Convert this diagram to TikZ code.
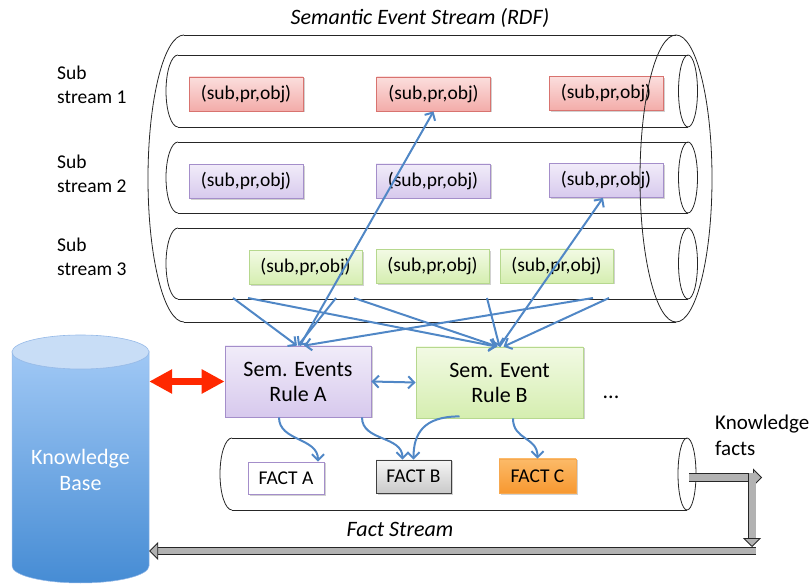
\documentclass[tikz,border=0pt]{standalone}
\usepackage{fontspec}
\setmainfont{Carlito}
\usetikzlibrary{arrows.meta,calc,shadows}
\newcommand\fsz[2]{\fontsize{#1pt}{#2pt}\selectfont}
\definecolor{ablue}{RGB}{80,135,198}
\definecolor{kbred}{RGB}{255,40,0}
\definecolor{redT}{RGB}{251,222,221}
\definecolor{redB}{RGB}{243,172,169}
\definecolor{redL}{RGB}{216,115,111}
\definecolor{purT}{RGB}{241,236,249}
\definecolor{purB}{RGB}{215,201,237}
\definecolor{purL}{RGB}{164,142,202}
\definecolor{grnT}{RGB}{242,250,228}
\definecolor{grnB}{RGB}{213,238,176}
\definecolor{grnL}{RGB}{182,216,142}
\definecolor{kbT}{RGB}{160,200,245}
\definecolor{kbB}{RGB}{70,140,212}
\definecolor{kbCap}{RGB}{200,221,246}
\definecolor{kbCapL}{RGB}{150,186,232}
\definecolor{orT}{RGB}{252,186,104}
\definecolor{orB}{RGB}{247,152,48}
\definecolor{orL}{RGB}{246,168,80}
\begin{document}
\begin{tikzpicture}[x=1pt,y=-1pt,
  outl/.style={draw=black!85, line width=0.8pt},
  shd/.style={drop shadow={shadow xshift=1.5pt, shadow yshift=-1.5pt, opacity=0.18, fill=black}},
  triple/.style={minimum width=114pt, minimum height=34pt, inner sep=0pt, font=\fsz{19.5}{23}, line width=0.8pt, shd},
  tred/.style={triple, draw=redL, top color=redT, bottom color=redB},
  tpur/.style={triple, draw=purL, top color=purT, bottom color=purB},
  tgrn/.style={triple, draw=grnL, top color=grnT, bottom color=grnB, minimum width=113pt},
  rulebox/.style={minimum height=71pt, inner sep=0pt, align=center, font=\fsz{22}{25}, line width=0.8pt, shd},
  factbox/.style={minimum height=33pt, inner sep=0pt, font=\fsz{19.5}{23}, line width=0.8pt, shd},
  lbl/.style={align=left, anchor=west, inner sep=0pt, font=\fsz{19.5}{24}},
  bl/.style={draw=ablue, line width=2pt},
  barrow/.style={bl, -{Straight Barb[length=6pt,width=12pt]}},
  gbar/.style={draw=black!85, line width=0.8pt, double=gray!60, double distance=7pt,
     -{Triangle[length=9pt,width=18pt,fill=gray!60,line width=0.8pt]}}
]
\useasboundingbox (0,0) rectangle (812,585);

% title
\node[font=\itshape\fsz{22}{26}] (title) at (420,18) {Semantic Event Stream (RDF)};

% outer cylinder (left part)
\draw[outl] (184,35) -- (676,35);
\draw[outl] (184,322) -- (676,322);
\draw[outl] (184,35) arc[start angle=270,end angle=90,x radius=36,y radius=143.5];

% sub stream tubes
\foreach \t/\b in {55/127,142/213,228/299}{
  \pgfmathsetmacro\ry{(\b-\t)/2}
  \pgfmathsetmacro\cy{(\b+\t)/2}
  \draw[outl] (178,\t) -- (688,\t);
  \draw[outl] (178,\b) -- (688,\b);
  \draw[outl] (178,\t) arc[start angle=270,end angle=90,x radius=12,y radius=\ry];
  \draw[outl] (688,\cy) ellipse[x radius=9.5,y radius=\ry];
}

% labels
\node[lbl] (l1) at (57,85) {Sub\\stream 1};
\node[lbl] (l2) at (57,173.5) {Sub\\stream 2};
\node[lbl] (l3) at (57,256.5) {Sub\\stream 3};

% triples
\node[tred] (r1) at (246,94) {(sub,pr,obj)};
\node[tred] (r2) at (433.5,94) {(sub,pr,obj)};
\node[tred] (r3) at (606,93.5) {(sub,pr,obj)};
\node[tpur] (p1) at (246,181.5) {(sub,pr,obj)};
\node[tpur] (p2) at (433,181) {(sub,pr,obj)};
\node[tpur] (p3) at (606,180.5) {(sub,pr,obj)};
\node[tgrn] (g1) at (305.5,267.5) {(sub,pr,obj)};
\node[tgrn] (g2) at (432.5,266.5) {(sub,pr,obj)};
\node[tgrn] (g3) at (556.5,266) {(sub,pr,obj)};

% outer cylinder right ellipse (on top)
\draw[outl] (676,178.5) ellipse[x radius=36,y radius=143.5];

% rules
\node[rulebox, minimum width=146pt, draw=purL, top color=purT, bottom color=purB] (rA) at (298,381.5) {Sem. Events\\Rule A};
\node[rulebox, minimum width=167pt, draw=grnL, top color=grnT, bottom color=grnB] (rB) at (499.5,382.5) {Sem. Event\\Rule B};
\node[font=\fsz{22}{26}] (dots) at (611,397) {...};

% fact stream cylinder
\draw[outl] (232,438) -- (687,438);
\draw[outl] (232,510) -- (687,510);
\draw[outl] (232,438) arc[start angle=270,end angle=90,x radius=12,y radius=36];
\draw[outl] (687,474) ellipse[x radius=9,y radius=36];

% facts
\node[factbox, minimum width=76pt, minimum height=32pt, draw=purL, fill=white] (fA) at (286,478) {FACT A};
\node[factbox, minimum width=75pt, draw=black!75, top color=gray!8, bottom color=gray!42] (fB) at (413.5,476.5) {FACT B};
\node[factbox, minimum width=77pt, minimum height=34pt, draw=orL, top color=orT, bottom color=orB] (fC) at (537.5,476) {FACT C};
\node[font=\itshape\fsz{22}{26}] (fs) at (400,529) {Fact Stream};

% knowledge base
\path[top color=kbT, bottom color=kbB, draw=kbCapL, line width=0.5pt]
  (12,352) -- (12,566) arc[start angle=180,end angle=0,x radius=68.5,y radius=17]
  -- (149,352) arc[start angle=0,end angle=180,x radius=68.5,y radius=17] -- cycle;
\path[fill=kbCap, draw=kbCapL, line width=0.6pt] (80.5,352) ellipse[x radius=68.5,y radius=17];
\node[minimum width=137pt, minimum height=248pt, inner sep=0pt] (kb) at (80.5,459) {};
\node[text=white, align=center, font=\fsz{22}{26}] (kbtext) at (80.5,470) {Knowledge\\Base};

\node[lbl, font=\fsz{21}{26}] (kf) at (715,435) {Knowledge\\facts};

% red double arrow
\draw[draw=kbred, line width=7pt, {Triangle[length=23pt,width=23pt]}-{Triangle[length=23pt,width=23pt]}]
  (kb.east |- rA.west) -- (rA.west);

% blue arrows from sub stream 3
\coordinate (s1) at (233,298);
\coordinate (s2) at (248,298);
\coordinate (s3) at (336,298);
\coordinate (s4) at (354,298);
\coordinate (s5) at (487,298);
\coordinate (s6) at (593,298);
\coordinate (s7) at (609,298);
\draw[barrow] (s1) -- ([xshift=-1pt]rA.north);
\draw[barrow] (s3) -- (rA.north);
\draw[barrow] (s6) -- ([xshift=6pt]rA.north);
\draw[barrow] (s2) -- ([xshift=-3pt]rB.north);
\draw[barrow] (s4) -- ([xshift=-2pt]rB.north);
\draw[barrow] (s5) -- (rB.north);
\draw[barrow] (s7) -- ([xshift=4pt]rB.north);
\draw[barrow] ([xshift=2pt]rA.north) -- (r2.south);
\draw[barrow] (rB.north) -- ([xshift=-3pt]p3.south);

% between rules
\draw[bl, {Straight Barb[length=6pt,width=12pt]}-{Straight Barb[length=6pt,width=12pt]}] (rA.east) -- (rB.west);

% rules to facts
\draw[barrow] ([xshift=-19pt]rA.south) .. controls +(0,24) and +(0,-24) .. ([xshift=32pt]fA.north);
\draw[barrow] ([xshift=64pt]rA.south) .. controls +(0,24) and +(0,-24) .. ([xshift=-11pt]fB.north);
\draw[barrow] ([xshift=-40pt,yshift=2pt]rB.south) .. controls +(-36,0) and +(0,-26) .. (fB.north);
\draw[barrow] ([xshift=13.5pt]rB.south) .. controls +(0,22) and +(0,-22) .. (fC.north);

% knowledge facts flow
\coordinate (fsE) at (689,477.5);
\coordinate (kfR) at (762,477.5);
\coordinate (kfT) at (752,473);
\coordinate (kfB) at (752,547);
\coordinate (kfC) at (756,551);
\draw[gbar] (fsE) -- (kfR);
\draw[gbar] (kfT) -- (kfB);
\draw[gbar, double distance=5.5pt] (kfC) -- (kb.east |- kfC);
\end{tikzpicture}
\end{document}
